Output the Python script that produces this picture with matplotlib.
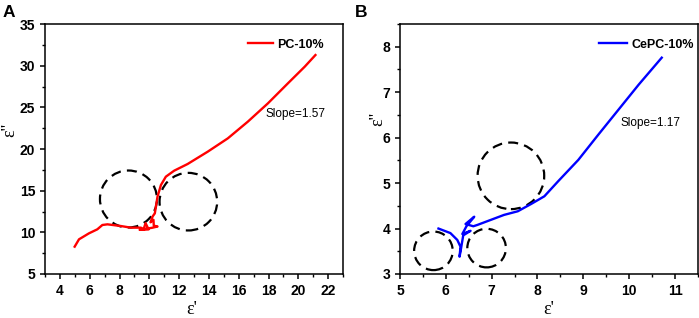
import matplotlib.pyplot as plt
from matplotlib.patches import Ellipse
from matplotlib.ticker import MultipleLocator, AutoMinorLocator

# panel A: PC-10%
pc_x = [4.99, 5.28, 5.95, 6.51, 6.85, 7.19, 8.08, 8.76, 9.43, 9.62, 9.75, 9.95, 9.35,
        10.2, 10.55, 10.3, 10.28, 10.08, 10.22, 10.37, 10.55, 10.78, 11.11, 11.67,
        12.57, 13.92, 15.27, 16.61, 17.96, 19.3, 20.43, 21.15]
pc_y = [8.28, 9.16, 9.88, 10.36, 10.88, 10.96, 10.76, 10.56, 10.56, 10.4, 11.1, 10.35, 10.3,
        10.55, 10.7, 10.8, 11.5, 11.2, 11.9, 12.28, 14.28, 15.68, 16.68, 17.4,
        18.2, 19.68, 21.28, 23.28, 25.48, 27.88, 29.88, 31.28]

# panel B: CePC-10%
cepc_x = [5.84, 6.1, 6.25, 6.32, 6.3, 6.33, 6.38, 6.54, 6.36, 6.45, 6.62, 6.43, 6.6,
          6.69, 6.98, 7.27, 7.57, 7.86, 8.15, 8.45, 8.89, 9.33, 9.77, 10.21, 10.71]
cepc_y = [4.0, 3.9, 3.75, 3.6, 3.38, 3.55, 3.85, 3.95, 3.88, 4.05, 4.26, 4.1, 4.05,
          4.08, 4.19, 4.30, 4.38, 4.54, 4.71, 5.04, 5.51, 6.07, 6.62, 7.17, 7.76]

# dashed circles: (center x, center y, radius in pixels)
circles_a = [(8.6, 14.0, 28.5), (12.62, 13.68, 28.8)]
circles_b = [(7.42, 5.16, 33.3), (5.73, 3.51, 19.3), (6.89, 3.57, 19.3)]

plt.rcParams['font.family'] = ['Liberation Sans', 'DejaVu Sans']

fig = plt.figure(figsize=(6.99, 3.18), dpi=100)
axA = fig.add_axes([0.0644, 0.1384, 0.4263, 0.786])
axB = fig.add_axes([0.5722, 0.1384, 0.4263, 0.786])


def style(ax, xlim, ylim, xmaj, ymaj):
    ax.set_xlim(*xlim)
    ax.set_ylim(*ylim)
    ax.xaxis.set_major_locator(MultipleLocator(xmaj))
    ax.yaxis.set_major_locator(MultipleLocator(ymaj))
    ax.xaxis.set_minor_locator(AutoMinorLocator(2))
    ax.yaxis.set_minor_locator(AutoMinorLocator(2))
    ax.tick_params(which='major', direction='out', length=3.5, width=1.1, labelsize=10)
    ax.tick_params(which='minor', direction='out', length=2, width=1.0)
    for lab in ax.get_xticklabels() + ax.get_yticklabels():
        lab.set_fontweight('bold')
    for s in ax.spines.values():
        s.set_linewidth(1.1)
    ax.set_xlabel("ε'", family='Liberation Serif', fontsize=13)
    ax.set_ylabel("ε''", family='Liberation Serif', fontsize=13)


def add_circles(ax, circles):
    bbox = ax.get_window_extent()
    x0, x1 = ax.get_xlim()
    y0, y1 = ax.get_ylim()
    sx = bbox.width / (x1 - x0)
    sy = bbox.height / (y1 - y0)
    for cx, cy, r in circles:
        ax.add_patch(Ellipse((cx, cy), 2 * r / sx, 2 * r / sy, fill=False,
                             ec='black', lw=1.6, ls=(0, (4.5, 2.8))))


style(axA, (3, 23), (5, 35), 2, 5)
axA.plot(pc_x, pc_y, color='red', lw=1.7, label='PC-10%')
axA.text(17.8, 24.2, 'Slope=1.57', fontsize=8.5, va='center')
axA.yaxis.set_label_coords(-0.09, 0.576)
axA.xaxis.set_label_coords(0.493, -0.11)
axA.legend(loc='upper right', bbox_to_anchor=(0.966, 0.976), frameon=False,
           handlelength=2.0, handletextpad=0.35,
           prop={'weight': 'bold', 'size': 9}, borderaxespad=0.3)

style(axB, (5, 11.5), (3, 8.5), 1, 1)
axB.plot(cepc_x, cepc_y, color='blue', lw=1.7, label='CePC-10%')
axB.text(9.8, 6.32, 'Slope=1.17', fontsize=8.5, va='center')
axB.yaxis.set_label_coords(-0.045, 0.62)
axB.xaxis.set_label_coords(0.5, -0.11)
axB.legend(loc='upper right', bbox_to_anchor=(1.017, 0.976), frameon=False,
           handlelength=2.3, handletextpad=0.35,
           prop={'weight': 'bold', 'size': 9}, borderaxespad=0.3)

fig.canvas.draw()
add_circles(axA, circles_a)
add_circles(axB, circles_b)

fig.text(0.004, 0.985, 'A', fontsize=12.5, fontweight='bold', va='top')
fig.text(0.508, 0.985, 'B', fontsize=12.5, fontweight='bold', va='top')

fig.savefig('out.png', dpi=100)
